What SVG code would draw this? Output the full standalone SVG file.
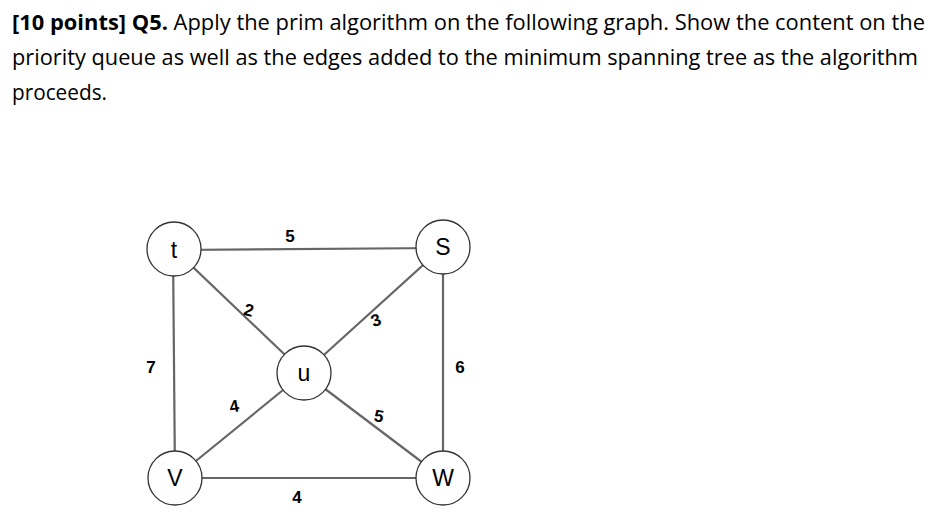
<svg xmlns="http://www.w3.org/2000/svg" width="942" height="521" viewBox="0 0 942 521">
<style>
.t{font-family:"Open Sans","Noto Sans",sans-serif;font-size:21px;fill:#000}
.e{stroke:#666;stroke-width:2.2;fill:none}
.n{fill:#fff;stroke:#333;stroke-width:1.3}
.nl{font-family:"Liberation Sans",Arial,sans-serif;font-size:23px;text-anchor:middle;fill:#000}
.w{font-family:"Liberation Sans",Arial,sans-serif;font-size:17px;font-weight:bold;text-anchor:middle;fill:#000}
</style>
<rect width="942" height="521" fill="#fff"/>
<text class="t" x="12" y="30" textLength="913" lengthAdjust="spacingAndGlyphs"><tspan font-weight="bold">[10 points] Q5.</tspan> Apply the prim algorithm on the following graph. Show the content on the</text>
<text class="t" x="12" y="65" textLength="906" lengthAdjust="spacingAndGlyphs">priority queue as well as the edges added to the minimum spanning tree as the algorithm</text>
<text class="t" x="12" y="100" textLength="95" lengthAdjust="spacingAndGlyphs">proceeds.</text>
<g id="edges">
<line class="e" x1="174" y1="250" x2="443" y2="248"/>
<line class="e" x1="173" y1="249" x2="175" y2="478"/>
<line class="e" x1="443" y1="247" x2="443" y2="478"/>
<line class="e" x1="175" y1="478" x2="443" y2="478"/>
<line class="e" x1="174" y1="249" x2="304" y2="373"/>
<line class="e" x1="443" y1="247" x2="304" y2="373"/>
<line class="e" x1="175" y1="478" x2="304" y2="373"/>
<line class="e" x1="443" y1="478" x2="304" y2="373"/>
<text class="w" x="290" y="242">5</text>
<text class="w" x="249" y="316" transform="rotate(15 249 310)">2</text>
<text class="w" x="376" y="326" transform="rotate(-20 376 320)">3</text>
<text class="w" x="151" y="373">7</text>
<text class="w" x="460" y="373">6</text>
<text class="w" x="234" y="412" transform="rotate(-10 234 406)">4</text>
<text class="w" x="379" y="422" transform="rotate(10 379 416)">5</text>
<text class="w" x="297" y="503">4</text>
</g>
<g id="node-t"><circle class="n" cx="174" cy="249" r="27"/><text class="nl" x="174" y="258">t</text></g>
<g id="node-s"><circle class="n" cx="443" cy="247" r="27"/><text class="nl" x="443" y="255">S</text></g>
<g id="node-u"><circle class="n" cx="304" cy="373" r="27"/><text class="nl" x="304" y="381">u</text></g>
<g id="node-v"><circle class="n" cx="175" cy="478" r="27"/><text class="nl" x="175" y="486">V</text></g>
<g id="node-w"><circle class="n" cx="443" cy="478" r="27"/><text class="nl" x="443" y="486">W</text></g>
</svg>
